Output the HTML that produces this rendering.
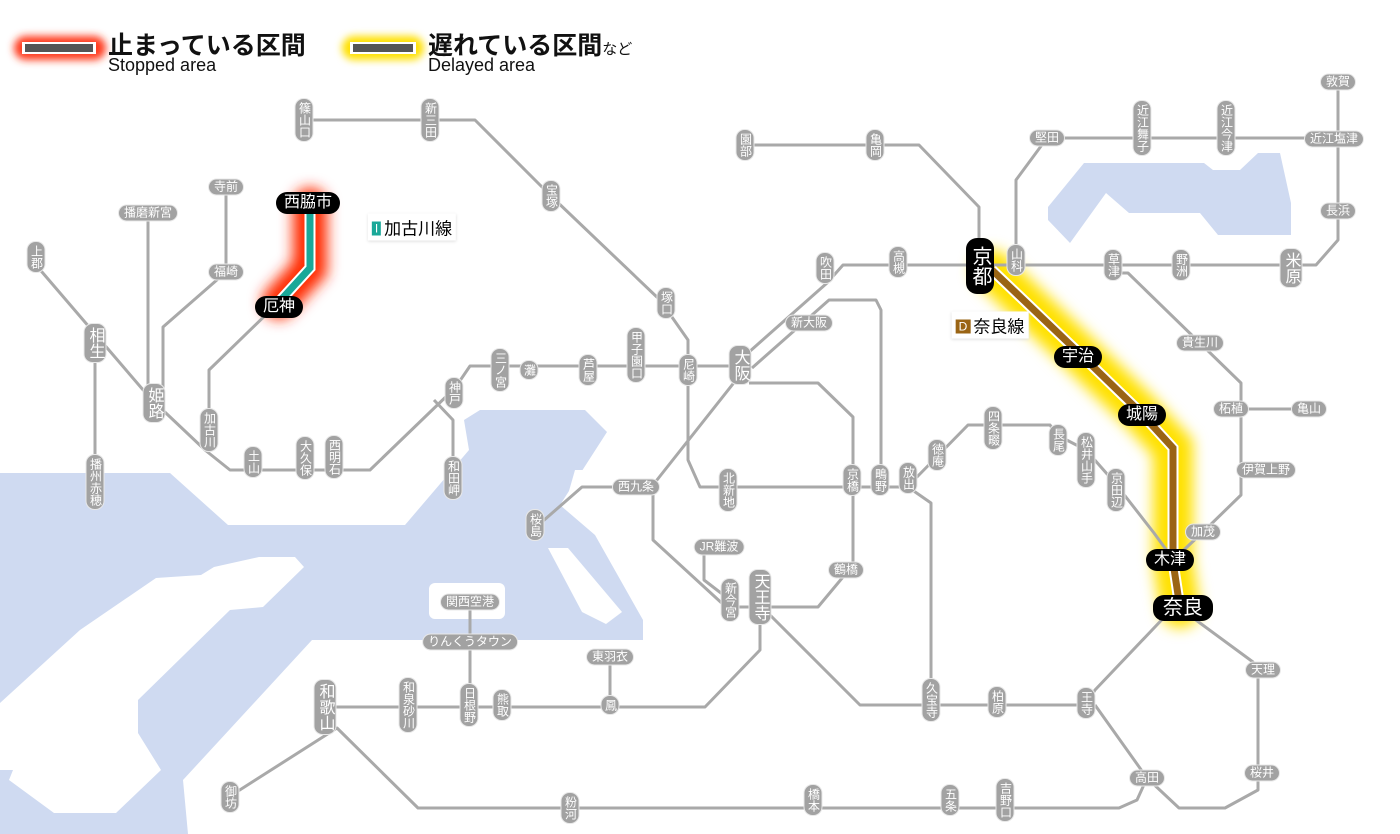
<!DOCTYPE html>
<html><head><meta charset="utf-8">
<style>
html,body{margin:0;padding:0;background:#fff;}
#w{position:relative;width:1400px;height:834px;overflow:hidden;font-family:"Liberation Sans","Noto Sans CJK JP",sans-serif;}
svg{position:absolute;left:0;top:0;}
.s{position:absolute;transform:translate(-50%,-50%);background:#a2a2a2;color:#fff;font-size:12px;line-height:13px;border-radius:8px;white-space:nowrap;box-shadow:0 0 0 1px #e8e8e8;}
.v{writing-mode:vertical-rl;padding:3px 2px;}
.h{padding:1px 5px;}
.b{font-size:16px;line-height:17px;}
.k{position:absolute;transform:translate(-50%,-50%);background:#000;color:#fff;font-size:16px;line-height:18px;border-radius:11px;padding:2px 8px;white-space:nowrap;}
.tag{position:absolute;transform:translate(-50%,-50%);background:#fff;font-size:17px;padding:1px 4px;white-space:nowrap;box-shadow:0 1px 3px #ddd;}
.tag i{font-style:normal;color:#fff;font-size:12px;padding:0 3px;margin-right:3px;vertical-align:2px;}
</style></head><body><div id="w">
<svg width="1400" height="834" viewBox="0 0 1400 834">
<defs>
<filter id="bl" filterUnits="userSpaceOnUse" x="0" y="0" width="1400" height="834"><feGaussianBlur stdDeviation="7"/></filter>
<filter id="bl2" filterUnits="userSpaceOnUse" x="0" y="0" width="1400" height="834"><feGaussianBlur stdDeviation="4"/></filter>
</defs>
<g fill="#cfdaf1">
<polygon points="0,473 170,473 228,525 405,525 469,450 464,420 480,410 585,410 607,432 560,505 595,535 643,620 643,640 312,640 183,780 188,834 0,834"/>
<polygon points="1084,163 1204,163 1213,170 1240,170 1258,153 1280,153 1291,203 1291,235 1218,235 1200,213 1129,213 1106,193 1070,243 1048,220 1048,207"/>
</g>
<g fill="#fff">
<polygon points="0,703 80,630 156,578 201,575 214,567 259,557 295,557 304,567 263,607 230,610 138,700 138,733 161,770 116,813 54,813 9,780 13,770 0,770"/>
<rect x="429" y="583" width="76" height="36" rx="6"/>
<polygon points="548,548 568,548 622,612 606,624 582,612"/>
<polygon points="575,470 585,470 575,510 565,505"/>
</g>
<!-- legend -->
<rect x="14" y="36" width="92" height="24" rx="12" fill="#ff3a1a" filter="url(#bl2)"/>
<rect x="22" y="42" width="74" height="12" fill="#fff"/>
<rect x="25" y="44" width="68" height="8" fill="#555"/>
<rect x="342" y="36" width="82" height="24" rx="12" fill="#ffe000" filter="url(#bl2)"/>
<rect x="350" y="42" width="66" height="12" fill="#fff"/>
<rect x="353" y="44" width="60" height="8" fill="#555"/>
<!-- glows -->
<path d="M279,302 L310,268 L310,205" stroke="#ff2a00" stroke-width="34" fill="none" stroke-linecap="round" filter="url(#bl)"/>
<path d="M992,270 L1079,353 L1140,412 L1173,448 L1173,562 L1180,608" stroke="#ffe100" stroke-width="40" fill="none" stroke-linecap="round" filter="url(#bl)"/>
<g stroke="#a9a9a9" stroke-width="3" fill="none" stroke-linejoin="round">
<path d="M304,120 L475,120 L551,196 L660,300 L688,340 L688,460 L700,487 L908,487"/>
<path d="M36,265 L150,398 L205,450 L230,470 L370,470 L455,388 L470,366 L740,366"/>
<path d="M434,400 L453,420 L453,480"/>
<path d="M95,343 L95,480"/>
<path d="M148,213 L148,395"/>
<path d="M226,187 L226,272 L163,327 L163,390"/>
<path d="M209,440 L209,370 L279,302"/>
<path d="M740,375 L653,485 L653,540 L726,607 L818,607 L853,565 L853,417 L818,383 L749,383"/>
<path d="M653,487 L582,487 L535,528"/>
<path d="M740,360 L827,283 L843,265 L1316,265 L1338,240 L1338,82"/>
<path d="M752,368 L829,300 L876,300 L881,310 L881,487"/>
<path d="M1016,265 L1016,180 L1047,138 L1338,138"/>
<path d="M745,145 L919,145 L979,207 L979,240"/>
<path d="M1113,273 L1128,273 L1241,383 L1241,495 L1203,532 L1173,560"/>
<path d="M1231,409 L1309,409"/>
<path d="M1173,608 L1095,690 L1086,705 L860,705 L768,613"/>
<path d="M1185,612 L1253,662 L1258,670 L1258,790 L1225,808 L1179,808 L1147,778 L1095,705"/>
<path d="M1147,778 L1137,800 L1119,808 L418,808 L337,728 L235,793"/>
<path d="M760,610 L760,650 L705,707 L325,707"/>
<path d="M610,657 L610,707"/>
<path d="M470,602 L470,707"/>
<path d="M704,547 L704,580 L730,600"/>
<path d="M908,487 L931,503 L931,700"/>
<path d="M914,480 L968,425 L1050,425 L1057,435 L1086,450 L1115,483 L1154,533 L1170,555"/>
</g>
<path d="M279,302 L310,268 L310,205" stroke="#fff" stroke-width="11" fill="none"/>
<path d="M279,302 L310,268 L310,205" stroke="#1aa898" stroke-width="7" fill="none"/>
<path d="M992,270 L1079,353 L1140,412 L1173,448 L1173,562 L1180,608" stroke="#fff" stroke-width="11" fill="none"/>
<path d="M992,270 L1079,353 L1140,412 L1173,448 L1173,562 L1180,608" stroke="#9a6414" stroke-width="7" fill="none"/>
</svg>
<div style="position:absolute;left:108px;top:26px;font-size:25px;font-weight:bold;color:#111;">止まっている区間</div>
<div style="position:absolute;left:108px;top:55px;font-size:18px;color:#111;">Stopped area</div>
<div style="position:absolute;left:428px;top:26px;font-size:25px;font-weight:bold;color:#111;">遅れている区間<span style="font-size:15px;font-weight:normal">など</span></div>
<div style="position:absolute;left:428px;top:55px;font-size:18px;color:#111;">Delayed area</div>

<div class="s v" style="left:304px;top:120px">篠山口</div>
<div class="s v" style="left:430px;top:120px">新三田</div>
<div class="s v" style="left:551px;top:196px">宝塚</div>
<div class="s v" style="left:666px;top:303px">塚口</div>
<div class="s v" style="left:688px;top:370px">尼崎</div>
<div class="s h" style="left:226px;top:187px">寺前</div>
<div class="s h" style="left:148px;top:213px">播磨新宮</div>
<div class="s v" style="left:36px;top:257px">上郡</div>
<div class="s h" style="left:226px;top:272px">福崎</div>
<div class="s v b" style="left:95px;top:343px">相生</div>
<div class="s v b" style="left:154px;top:403px">姫路</div>
<div class="s v" style="left:95px;top:482px">播州赤穂</div>
<div class="s v" style="left:209px;top:430px">加古川</div>
<div class="s v" style="left:253px;top:462px">土山</div>
<div class="s v" style="left:305px;top:458px">大久保</div>
<div class="s v" style="left:334px;top:457px">西明石</div>
<div class="s v" style="left:454px;top:393px">神戸</div>
<div class="s v" style="left:453px;top:478px">和田岬</div>
<div class="s v" style="left:500px;top:370px">三ノ宮</div>
<div class="s v" style="left:529px;top:370px">灘</div>
<div class="s v" style="left:588px;top:370px">芦屋</div>
<div class="s v" style="left:636px;top:355px">甲子園口</div>
<div class="s v b" style="left:740px;top:365px">大阪</div>
<div class="s h" style="left:809px;top:323px">新大阪</div>
<div class="s v" style="left:825px;top:268px">吹田</div>
<div class="s v" style="left:898px;top:262px">高槻</div>
<div class="s v" style="left:1016px;top:260px">山科</div>
<div class="s v" style="left:1113px;top:265px">草津</div>
<div class="s v" style="left:1181px;top:265px">野洲</div>
<div class="s v b" style="left:1291px;top:268px">米原</div>
<div class="s h" style="left:1338px;top:211px">長浜</div>
<div class="s h" style="left:1334px;top:139px">近江塩津</div>
<div class="s h" style="left:1338px;top:82px">敦賀</div>
<div class="s h" style="left:1047px;top:138px">堅田</div>
<div class="s v" style="left:1142px;top:128px">近江舞子</div>
<div class="s v" style="left:1226px;top:128px">近江今津</div>
<div class="s v" style="left:745px;top:145px">園部</div>
<div class="s v" style="left:875px;top:145px">亀岡</div>
<div class="s h" style="left:1200px;top:343px">貴生川</div>
<div class="s h" style="left:1231px;top:409px">柘植</div>
<div class="s h" style="left:1309px;top:409px">亀山</div>
<div class="s h" style="left:1266px;top:470px">伊賀上野</div>
<div class="s h" style="left:1203px;top:532px">加茂</div>
<div class="s v" style="left:728px;top:490px">北新地</div>
<div class="s v" style="left:852px;top:480px">京橋</div>
<div class="s v" style="left:880px;top:480px">鴫野</div>
<div class="s v" style="left:908px;top:478px">放出</div>
<div class="s v" style="left:937px;top:455px">徳庵</div>
<div class="s v" style="left:993px;top:428px">四条畷</div>
<div class="s v" style="left:1058px;top:440px">長尾</div>
<div class="s v" style="left:1086px;top:460px">松井山手</div>
<div class="s v" style="left:1116px;top:490px">京田辺</div>
<div class="s h" style="left:636px;top:487px">西九条</div>
<div class="s v" style="left:535px;top:525px">桜島</div>
<div class="s h" style="left:719px;top:547px">JR難波</div>
<div class="s v" style="left:730px;top:600px">新今宮</div>
<div class="s v b" style="left:760px;top:597px">天王寺</div>
<div class="s h" style="left:846px;top:570px">鶴橋</div>
<div class="s h" style="left:470px;top:602px">関西空港</div>
<div class="s h" style="left:470px;top:642px">りんくうタウン</div>
<div class="s h" style="left:610px;top:657px">東羽衣</div>
<div class="s v" style="left:610px;top:705px">鳳</div>
<div class="s v" style="left:502px;top:705px">熊取</div>
<div class="s v" style="left:469px;top:705px">日根野</div>
<div class="s v" style="left:408px;top:705px">和泉砂川</div>
<div class="s v b" style="left:325px;top:707px">和歌山</div>
<div class="s v" style="left:230px;top:797px">御坊</div>
<div class="s v" style="left:570px;top:808px">粉河</div>
<div class="s v" style="left:813px;top:800px">橋本</div>
<div class="s v" style="left:950px;top:800px">五条</div>
<div class="s v" style="left:1005px;top:800px">吉野口</div>
<div class="s v" style="left:931px;top:700px">久宝寺</div>
<div class="s v" style="left:997px;top:702px">柏原</div>
<div class="s v" style="left:1086px;top:703px">王寺</div>
<div class="s h" style="left:1263px;top:670px">天理</div>
<div class="s h" style="left:1262px;top:773px">桜井</div>
<div class="s h" style="left:1147px;top:778px">高田</div>

<div class="k" style="left:308px;top:203px">西脇市</div>
<div class="k" style="left:279px;top:307px">厄神</div>
<div class="k" style="left:980px;top:266px;writing-mode:vertical-rl;padding:8px 3px;font-size:20px;line-height:22px;">京都</div>
<div class="k" style="left:1078px;top:357px">宇治</div>
<div class="k" style="left:1142px;top:415px">城陽</div>
<div class="k" style="left:1170px;top:560px">木津</div>
<div class="k" style="left:1183px;top:608px;font-size:20px;line-height:22px;padding:2px 10px;">奈良</div>
<div class="tag" style="left:412px;top:227px"><i style="background:#1aa898">I</i>加古川線</div>
<div class="tag" style="left:990px;top:325px"><i style="background:#9a6414">D</i>奈良線</div>
</div></body></html>
